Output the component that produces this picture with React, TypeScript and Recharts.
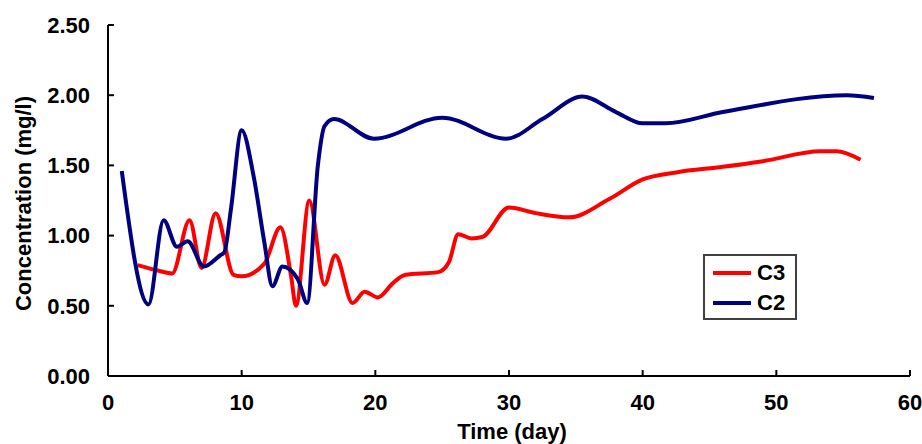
import React from 'react';
import { LineChart, Line, XAxis, YAxis, Legend, Label } from 'recharts';

// C3 (red) readings: day / concentration
const c3Days = [2.2, 3.8, 4.8, 6.1, 7.0, 8.05, 9.4, 10, 11.7, 12.9, 13.7, 14.06, 15.06, 16.2, 17.0, 18.3, 19.2, 20.2, 21.3, 22.2, 24.7, 25.5, 26.2, 27.2, 28, 30, 32, 34.5, 37.5, 40, 42.5, 46, 49, 53.3, 54.5, 56.3];
const c3Values = [0.79, 0.75, 0.73, 1.11, 0.77, 1.16, 0.72, 0.71, 0.8, 1.06, 0.71, 0.5, 1.25, 0.65, 0.86, 0.52, 0.6, 0.56, 0.66, 0.72, 0.74, 0.81, 1.01, 0.98, 0.99, 1.2, 1.16, 1.13, 1.26, 1.4, 1.45, 1.49, 1.53, 1.6, 1.6, 1.54];

// C2 (blue) readings
const c2Days = [1.03, 3.03, 4.16, 5.16, 5.96, 7.17, 8.4, 8.7, 9.2, 10, 10.9, 11.7, 12.3, 13.05, 14.2, 14.9, 15.7, 16.2, 16.9, 19.9, 25, 29.8, 32.5, 35.5, 38, 40, 41.7, 46, 55.3, 57.3];
const c2Values = [1.46, 0.51, 1.11, 0.92, 0.96, 0.78, 0.86, 0.88, 1.19, 1.75, 1.42, 0.95, 0.64, 0.78, 0.69, 0.52, 1.5, 1.78, 1.83, 1.69, 1.84, 1.69, 1.83, 1.99, 1.88, 1.8, 1.8, 1.88, 2.0, 1.98];

const xTicks = [0, 10, 20, 30, 40, 50, 60];
const yTicks = [0, 0.5, 1, 1.5, 2, 2.5];

const c3Data = c3Days.map((day, i) => ({ day, value: c3Values[i] }));
const c2Data = c2Days.map((day, i) => ({ day, value: c2Values[i] }));

const FONT = '"Liberation Sans", Arial, sans-serif';
const tickStyle = { fill: '#000', fontSize: 22, fontWeight: 700, fontFamily: FONT };

const LegendBox = () => {
  const rows = [
    { name: 'C3', color: '#ff0000' },
    { name: 'C2', color: '#000080' },
  ];
  return (
    <div
      style={{
        border: '2px solid #404040',
        padding: '2px 10px 0 8px',
        background: '#fff',
        fontFamily: FONT,
        fontWeight: 700,
        fontSize: 22,
        color: '#000',
      }}
    >
      {rows.map((r) => (
        <div key={r.name} style={{ display: 'flex', alignItems: 'center', height: 30 }}>
          <span style={{ display: 'inline-block', width: 38, height: 4, background: r.color, marginRight: 6 }} />
          <span>{r.name}</span>
        </div>
      ))}
    </div>
  );
};

export default function App() {
  return (
    <div style={{ position: 'absolute', left: 0, top: 0 }}>
      <LineChart width={922} height={444} margin={{ top: 25, right: 12, left: 0, bottom: 0 }}>
        <XAxis
          type="number"
          dataKey="day"
          domain={[0, 60]}
          ticks={xTicks}
          height={68}
          axisLine={{ stroke: '#000', strokeWidth: 2 }}
          tickLine={{ stroke: '#000', strokeWidth: 2 }}
          tickSize={-6}
          tickMargin={24}
          tick={tickStyle}
        >
          <Label
            value="Time (day)"
            position="insideBottom"
            offset={5}
            dx={3}
            style={{ fill: '#000', fontSize: 22, fontWeight: 700, fontFamily: FONT }}
          />
        </XAxis>
        <YAxis
          type="number"
          domain={[0, 2.5]}
          ticks={yTicks}
          width={108}
          axisLine={{ stroke: '#000', strokeWidth: 2 }}
          tickLine={{ stroke: '#000', strokeWidth: 2 }}
          tickSize={-6}
          tickMargin={24}
          tick={tickStyle}
          tickFormatter={(v: number) => v.toFixed(2)}
        >
          <Label
            value="Concentration (mg/l)"
            position="center"
            angle={-90}
            dx={-31}
            dy={3}
            style={{ fill: '#000', fontSize: 22, fontWeight: 700, fontFamily: FONT }}
          />
        </YAxis>
        <Legend
          layout="horizontal"
          verticalAlign="middle"
          content={<LegendBox />}
          wrapperStyle={{ left: 703, top: 254, width: 'auto' }}
        />
        <Line
          data={c3Data}
          dataKey="value"
          name="C3"
          type="monotone"
          stroke="#ff0000"
          strokeWidth={4}
          dot={false}
          isAnimationActive={false}
        />
        <Line
          data={c2Data}
          dataKey="value"
          name="C2"
          type="monotone"
          stroke="#000080"
          strokeWidth={4}
          dot={false}
          isAnimationActive={false}
        />
      </LineChart>
    </div>
  );
}
